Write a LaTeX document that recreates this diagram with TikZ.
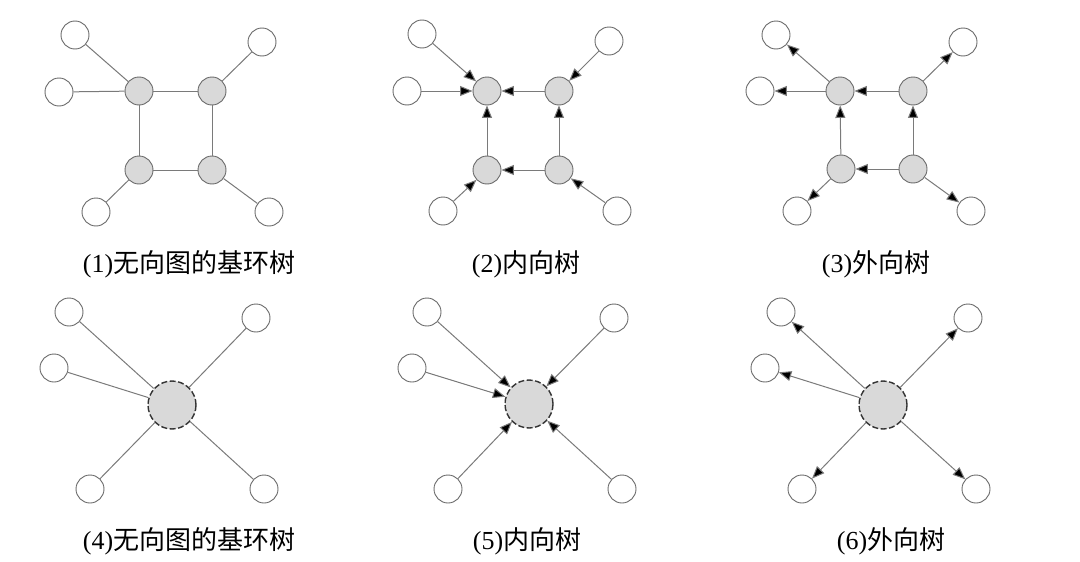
\documentclass[tikz,border=0pt]{standalone}
\usepackage{fontspec}
\setmainfont{Liberation Serif}
\newfontfamily\cjk{Noto Sans CJK SC}
\usetikzlibrary{arrows.meta}
\definecolor{edgegray}{HTML}{7A7A7A}
\definecolor{nodeline}{HTML}{6A6A6A}
\definecolor{nodefill}{HTML}{D9D9D9}
\tikzset{
  leaf/.style={circle,draw=nodeline,fill=white,line width=0.9pt,minimum size=28pt,inner sep=0pt},
  core/.style={circle,draw=nodeline,fill=nodefill,line width=0.9pt,minimum size=28pt,inner sep=0pt},
  hub/.style={circle,draw=black!80,dash pattern=on 6pt off 2.5pt,fill=nodefill,line width=1.4pt,minimum size=48pt,inner sep=0pt},
  edge/.style={draw=edgegray,line width=1pt},
  arr/.style={edge,-{Triangle[length=12.5pt,width=10pt,fill=black]}},
  captxt/.style={font=\fontsize{26}{30}\selectfont,inner sep=0pt}
}
\begin{document}
\begin{tikzpicture}[x=1pt,y=-1pt]
\useasboundingbox (0,0) rectangle (1080,562);
% ---------- panel 1 ----------
\node[core] (a1) at (139,91) {};
\node[core] (b1) at (212,91) {};
\node[core] (c1) at (139,170) {};
\node[core] (d1) at (212,170) {};
\node[leaf] (a1t) at (75,35) {};
\node[leaf] (a1l) at (59,92) {};
\node[leaf] (b1t) at (262,42) {};
\node[leaf] (c1b) at (96,212) {};
\node[leaf] (d1b) at (269,212) {};
\draw[edge] (a1t) -- (a1);
\draw[edge] (a1l) -- (a1);
\draw[edge] (b1t) -- (b1);
\draw[edge] (c1b) -- (c1);
\draw[edge] (d1b) -- (d1);
\draw[edge] (a1) -- (b1);
\draw[edge] (c1) -- (d1);
\draw[edge] (a1) -- (c1);
\draw[edge] (b1) -- (d1);
\node[captxt] (t1) at (189,264) {(1)\cjk 无向图的基环树};
% ---------- panel 2 ----------
\node[core] (a2) at (487,91) {};
\node[core] (b2) at (559,91) {};
\node[core] (c2) at (487,170) {};
\node[core] (d2) at (559,170) {};
\node[leaf] (a2t) at (422,34) {};
\node[leaf] (a2l) at (407,91) {};
\node[leaf] (b2t) at (609,41) {};
\node[leaf] (c2b) at (443,211) {};
\node[leaf] (d2b) at (617,211) {};
\draw[arr] (a2t) -- (a2);
\draw[arr] (a2l) -- (a2);
\draw[arr] (b2t) -- (b2);
\draw[arr] (c2b) -- (c2);
\draw[arr] (d2b) -- (d2);
\draw[arr] (b2) -- (a2);
\draw[arr] (d2) -- (c2);
\draw[arr] (c2) -- (a2);
\draw[arr] (d2) -- (b2);
\node[captxt] (t2) at (526,264) {(2)\cjk 内向树};
% ---------- panel 3 ----------
\node[core] (a3) at (840,91) {};
\node[core] (b3) at (913,91) {};
\node[core] (c3) at (841,169) {};
\node[core] (d3) at (913,169) {};
\node[leaf] (a3t) at (776,35) {};
\node[leaf] (a3l) at (760,91) {};
\node[leaf] (b3t) at (963,42) {};
\node[leaf] (c3b) at (797,211) {};
\node[leaf] (d3b) at (971,211) {};
\draw[arr] (a3) -- (a3t);
\draw[arr] (a3) -- (a3l);
\draw[arr] (b3) -- (b3t);
\draw[arr] (c3) -- (c3b);
\draw[arr] (d3) -- (d3b);
\draw[arr] (b3) -- (a3);
\draw[arr] (d3) -- (c3);
\draw[arr] (c3) -- (a3);
\draw[arr] (d3) -- (b3);
\node[captxt] (t3) at (876,264) {(3)\cjk 外向树};
% ---------- panel 4 ----------
\node[hub] (h4) at (172,405) {};
\node[leaf] (h4a) at (69,312) {};
\node[leaf] (h4b) at (54,368) {};
\node[leaf] (h4c) at (256,318) {};
\node[leaf] (h4d) at (90,489) {};
\node[leaf] (h4e) at (264,489) {};
\draw[edge] (h4a) -- (h4);
\draw[edge] (h4b) -- (h4);
\draw[edge] (h4c) -- (h4);
\draw[edge] (h4d) -- (h4);
\draw[edge] (h4e) -- (h4);
\node[captxt] (t4) at (189,541) {(4)\cjk 无向图的基环树};
% ---------- panel 5 ----------
\node[hub] (h5) at (529,404) {};
\node[leaf] (h5a) at (427,312) {};
\node[leaf] (h5b) at (412,368) {};
\node[leaf] (h5c) at (614,318) {};
\node[leaf] (h5d) at (448,489) {};
\node[leaf] (h5e) at (622,489) {};
\draw[arr] (h5a) -- (h5);
\draw[arr] (h5b) -- (h5);
\draw[arr] (h5c) -- (h5);
\draw[arr] (h5d) -- (h5);
\draw[arr] (h5e) -- (h5);
\node[captxt] (t5) at (527,541) {(5)\cjk 内向树};
% ---------- panel 6 ----------
\node[hub] (h6) at (883,405) {};
\node[leaf] (h6a) at (781,312) {};
\node[leaf] (h6b) at (765,368) {};
\node[leaf] (h6c) at (968,318) {};
\node[leaf] (h6d) at (802,489) {};
\node[leaf] (h6e) at (976,489) {};
\draw[arr] (h6) -- (h6a);
\draw[arr] (h6) -- (h6b);
\draw[arr] (h6) -- (h6c);
\draw[arr] (h6) -- (h6d);
\draw[arr] (h6) -- (h6e);
\node[captxt] (t6) at (891,541) {(6)\cjk 外向树};
\end{tikzpicture}
\end{document}
